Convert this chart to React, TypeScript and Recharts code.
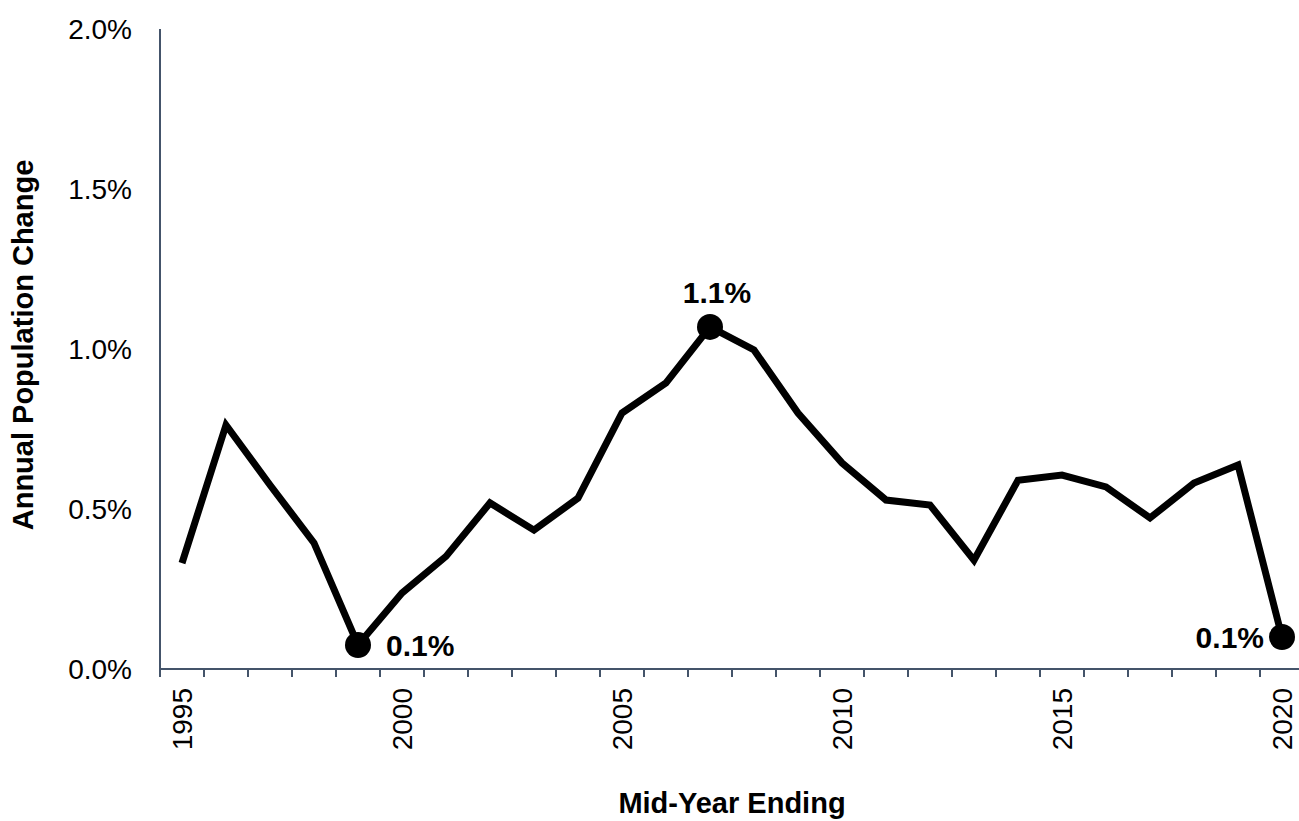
import React from 'react';
import { LineChart, Line, XAxis, YAxis, LabelList } from 'recharts';

const years = [1995, 1996, 1997, 1998, 1999, 2000, 2001, 2002, 2003, 2004, 2005, 2006, 2007, 2008, 2009, 2010, 2011, 2012, 2013, 2014, 2015, 2016, 2017, 2018, 2019, 2020];
const changePct = [0.331, 0.7625, 0.575, 0.394, 0.075, 0.2375, 0.352, 0.519, 0.434, 0.534, 0.8, 0.894, 1.069, 0.997, 0.8, 0.644, 0.528, 0.5125, 0.34, 0.59, 0.606, 0.569, 0.472, 0.581, 0.6375, 0.1];
const yTicks = [0, 0.5, 1.0, 1.5, 2.0];
const xLabelTicks = [1995, 2000, 2005, 2010, 2015, 2020];
const xBoundaryTicks = [1994.5, 1995.5, 1996.5, 1997.5, 1998.5, 1999.5, 2000.5, 2001.5, 2002.5, 2003.5, 2004.5, 2005.5, 2006.5, 2007.5, 2008.5, 2009.5, 2010.5, 2011.5, 2012.5, 2013.5, 2014.5, 2015.5, 2016.5, 2017.5, 2018.5, 2019.5, 2020.5];
const highlightYears = [1999, 2007, 2020];
const highlightLabels = ['0.1%', '1.1%', '0.1%'];
const highlightPos = ['right', 'top', 'left'];

const data = years.map((year, i) => ({ year, value: changePct[i] }));

const AXIS_COLOR = '#44546A';
const FONT = '"Liberation Sans", Arial, sans-serif';

const XLabelTick = (props: any) => {
  const { x, y, payload } = props;
  return (
    <text
      x={x}
      y={y}
      transform={`rotate(-90, ${x}, ${y})`}
      textAnchor="end"
      dy="0.35em"
      fontSize={28}
      fill="#000"
      fontFamily={FONT}
    >
      {payload.value}
    </text>
  );
};

const EmptyTick = () => <g />;

const renderDot = (props: any) => {
  const { cx, cy, payload, index } = props;
  if (highlightYears.indexOf(payload.year) >= 0) {
    return <circle key={`dot-${index}`} cx={cx} cy={cy} r={13} fill="#000" />;
  }
  return <g key={`dot-${index}`} />;
};

const renderLabel = (props: any) => {
  const { x, y, index } = props;
  const year = years[index];
  const h = highlightYears.indexOf(year);
  if (h < 0) return null;
  const pos = highlightPos[h];
  const common = { fontSize: 30, fontWeight: 700, fill: '#000', fontFamily: FONT };
  if (pos === 'right') {
    return (
      <text key={`lbl-${index}`} x={x + 28} y={y} dy="0.36em" textAnchor="start" {...common}>
        {highlightLabels[h]}
      </text>
    );
  }
  if (pos === 'left') {
    return (
      <text key={`lbl-${index}`} x={x - 18} y={y} dy="0.36em" textAnchor="end" {...common}>
        {highlightLabels[h]}
      </text>
    );
  }
  return (
    <text key={`lbl-${index}`} x={x + 7} y={y - 24} textAnchor="middle" {...common}>
      {highlightLabels[h]}
    </text>
  );
};

const YTitle = (props: any) => {
  const { viewBox } = props;
  const cx = viewBox.x + 23;
  const cy = viewBox.y + viewBox.height / 2 - 4;
  return (
    <text
      x={cx}
      y={cy}
      transform={`rotate(-90, ${cx}, ${cy})`}
      textAnchor="middle"
      dy="0.35em"
      fontSize={29}
      fontWeight={700}
      fill="#000"
      fontFamily={FONT}
    >
      Annual Population Change
    </text>
  );
};

const XTitle = (props: any) => {
  const { viewBox } = props;
  const cx = viewBox.x + viewBox.width / 2;
  return (
    <text
      x={cx}
      y={813}
      textAnchor="middle"
      fontSize={29}
      fontWeight={700}
      fill="#000"
      fontFamily={FONT}
    >
      Mid-Year Ending
    </text>
  );
};

export default function App() {
  return (
    <div
      style={{
        position: 'absolute',
        left: 0,
        top: 0,
        width: 1299,
        height: 821,
        overflow: 'hidden',
        background: '#fff',
        fontFamily: FONT,
      }}
    >
      <LineChart
        width={1320}
        height={821}
        data={data}
        margin={{ top: 29, right: 16, bottom: 0, left: 0 }}
      >
        <XAxis
          xAxisId="b"
          type="number"
          dataKey="year"
          domain={[1994.5, 2020.5]}
          ticks={xLabelTicks}
          interval={0}
          height={140}
          tick={XLabelTick}
          tickSize={0}
          tickMargin={7}
          axisLine={false}
          tickLine={false}
          allowDataOverflow
          label={<XTitle />}
        />
        <XAxis
          xAxisId="a"
          type="number"
          dataKey="year"
          domain={[1994.5, 2020.5]}
          ticks={xBoundaryTicks}
          interval={0}
          height={12}
          tick={EmptyTick}
          tickSize={8}
          axisLine={{ stroke: AXIS_COLOR, strokeWidth: 2 }}
          tickLine={{ stroke: AXIS_COLOR, strokeWidth: 2 }}
          allowDataOverflow
        />
        <YAxis
          type="number"
          domain={[0, 2]}
          ticks={yTicks}
          interval={0}
          width={160}
          tickFormatter={(v: number) => `${v.toFixed(1)}%`}
          tick={{ fontSize: 28, fill: '#000', fontFamily: FONT }}
          tickSize={0}
          tickMargin={28}
          tickLine={false}
          axisLine={{ stroke: AXIS_COLOR, strokeWidth: 2 }}
          label={<YTitle />}
        />
        <Line
          xAxisId="a"
          type="linear"
          dataKey="value"
          stroke="#000"
          strokeWidth={7}
          strokeLinejoin="miter"
          dot={renderDot}
          activeDot={false}
          isAnimationActive={false}
        >
          <LabelList dataKey="value" content={renderLabel} />
        </Line>
      </LineChart>
    </div>
  );
}
